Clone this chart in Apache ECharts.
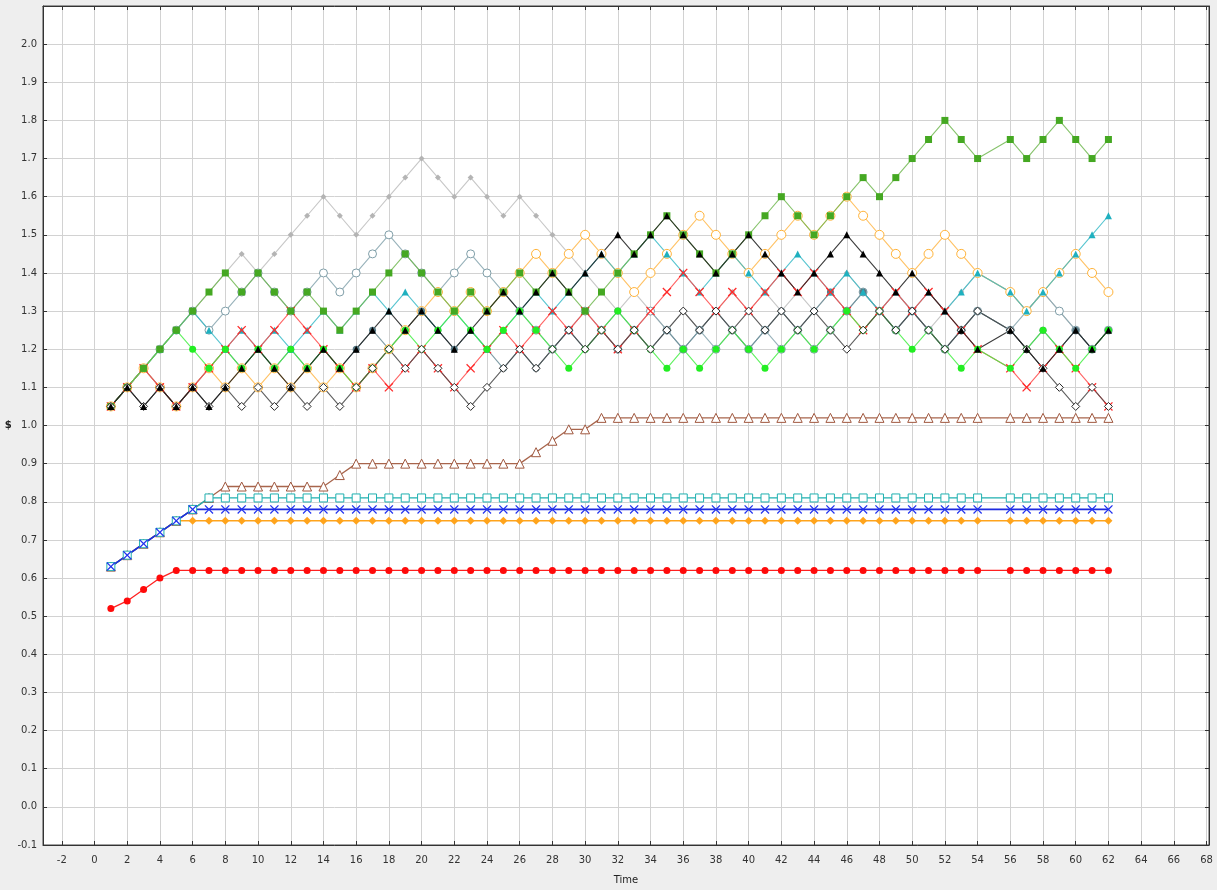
<!DOCTYPE html>
<html><head><meta charset="utf-8">
<script src="https://cdn.jsdelivr.net/npm/echarts@6/dist/echarts.min.js"></script>
<style>html,body{margin:0;padding:0;background:#eeeeee;}#c{width:1217px;height:890px;}</style>
</head><body><div id="c"></div>
<script>
// time points (t = 55 is absent in the source)
const times = [1,2,3,4,5,6,7,8,9,10,11,12,13,14,15,16,17,18,19,20,21,22,23,24,25,26,27,28,29,30,
  31,32,33,34,35,36,37,38,39,40,41,42,43,44,45,46,47,48,49,50,51,52,53,54,56,57,58,59,60,61,62];
const xTickValues = [-2,0,2,4,6,8,10,12,14,16,18,20,22,24,26,28,30,32,34,36,38,40,42,44,46,48,50,52,54,56,58,60,62,64,66,68];

// random-walk series
const greenSquares = [1.05,1.10,1.15,1.20,1.25,1.30,1.35,1.40,1.35,1.40,
 1.35,1.30,1.35,1.30,1.25,1.30,1.35,1.40,1.45,1.40,
 1.35,1.30,1.35,1.30,1.35,1.40,1.35,1.40,1.35,1.30,
 1.35,1.40,1.45,1.50,1.55,1.50,1.45,1.40,1.45,1.50,
 1.55,1.60,1.55,1.50,1.55,1.60,1.65,1.60,1.65,1.70,
 1.75,1.80,1.75,1.70,1.75,1.70,1.75,1.80,1.75,1.70,1.75];
const lightGrey = [1.05,1.10,1.15,1.20,1.25,1.30,1.35,1.40,1.45,1.40,
 1.45,1.50,1.55,1.60,1.55,1.50,1.55,1.60,1.65,1.70,
 1.65,1.60,1.65,1.60,1.55,1.60,1.55,1.50,1.45,1.40,
 1.35,1.30,1.35,1.30,1.25,1.30,1.25,1.30,1.35,1.30,
 1.35,1.30,1.35,1.30,1.35,1.40,1.35,1.30,1.35,1.30,
 1.25,1.30,1.35,1.40,1.35,1.30,1.35,1.30,1.25,1.20,1.25];
const greyBlueCircles = [1.05,1.10,1.15,1.20,1.25,1.30,1.25,1.30,1.35,1.40,
 1.35,1.30,1.35,1.40,1.35,1.40,1.45,1.50,1.45,1.40,
 1.35,1.40,1.45,1.40,1.35,1.30,1.25,1.20,1.25,1.30,
 1.25,1.20,1.25,1.30,1.25,1.20,1.25,1.20,1.25,1.20,
 1.25,1.20,1.25,1.20,1.25,1.30,1.35,1.30,1.25,1.30,
 1.25,1.20,1.25,1.30,1.25,1.30,1.35,1.30,1.25,1.20,1.25];
const orangeCircles = [1.05,1.10,1.15,1.10,1.05,1.10,1.15,1.10,1.15,1.10,
 1.15,1.10,1.15,1.10,1.15,1.10,1.15,1.20,1.25,1.30,
 1.35,1.30,1.35,1.30,1.35,1.40,1.45,1.40,1.45,1.50,
 1.45,1.40,1.35,1.40,1.45,1.50,1.55,1.50,1.45,1.40,
 1.45,1.50,1.55,1.50,1.55,1.60,1.55,1.50,1.45,1.40,
 1.45,1.50,1.45,1.40,1.35,1.30,1.35,1.40,1.45,1.40,1.35];
const blackTriangles = [1.05,1.10,1.05,1.10,1.05,1.10,1.05,1.10,1.15,1.20,
 1.15,1.10,1.15,1.20,1.15,1.20,1.25,1.30,1.25,1.30,
 1.25,1.20,1.25,1.30,1.35,1.30,1.35,1.40,1.35,1.40,
 1.45,1.50,1.45,1.50,1.55,1.50,1.45,1.40,1.45,1.50,
 1.45,1.40,1.35,1.40,1.45,1.50,1.45,1.40,1.35,1.40,
 1.35,1.30,1.25,1.20,1.25,1.20,1.15,1.20,1.25,1.20,1.25];
const cyanTriangles = [1.05,1.10,1.15,1.20,1.25,1.30,1.25,1.20,1.25,1.20,
 1.25,1.20,1.25,1.30,1.25,1.30,1.35,1.30,1.35,1.30,
 1.25,1.30,1.25,1.20,1.25,1.30,1.35,1.30,1.35,1.40,
 1.45,1.40,1.45,1.50,1.45,1.40,1.35,1.40,1.45,1.40,
 1.35,1.40,1.45,1.40,1.35,1.40,1.35,1.30,1.35,1.30,
 1.35,1.30,1.35,1.40,1.35,1.30,1.35,1.40,1.45,1.50,1.55];
const redCrosses = [1.05,1.10,1.15,1.10,1.05,1.10,1.15,1.20,1.25,1.20,
 1.25,1.30,1.25,1.20,1.15,1.10,1.15,1.10,1.15,1.20,
 1.15,1.10,1.15,1.20,1.25,1.20,1.25,1.30,1.25,1.30,
 1.25,1.20,1.25,1.30,1.35,1.40,1.35,1.30,1.35,1.30,
 1.35,1.40,1.35,1.40,1.35,1.30,1.25,1.30,1.35,1.30,
 1.35,1.30,1.25,1.20,1.15,1.10,1.15,1.20,1.15,1.10,1.05];
const brightGreenDots = [1.05,1.10,1.15,1.20,1.25,1.20,1.15,1.20,1.15,1.20,
 1.15,1.20,1.15,1.20,1.15,1.10,1.15,1.20,1.25,1.20,
 1.25,1.30,1.25,1.20,1.25,1.30,1.25,1.20,1.15,1.20,
 1.25,1.30,1.25,1.20,1.15,1.20,1.15,1.20,1.25,1.20,
 1.15,1.20,1.25,1.20,1.25,1.30,1.25,1.30,1.25,1.20,
 1.25,1.20,1.15,1.20,1.15,1.20,1.25,1.20,1.15,1.20,1.25];
const blackDiamonds = [1.05,1.10,1.05,1.10,1.05,1.10,1.05,1.10,1.05,1.10,
 1.05,1.10,1.05,1.10,1.05,1.10,1.15,1.20,1.15,1.20,
 1.15,1.10,1.05,1.10,1.15,1.20,1.15,1.20,1.25,1.20,
 1.25,1.20,1.25,1.20,1.25,1.30,1.25,1.30,1.25,1.30,
 1.25,1.30,1.25,1.30,1.25,1.20,1.25,1.30,1.25,1.30,
 1.25,1.20,1.25,1.30,1.25,1.20,1.15,1.10,1.05,1.10,1.05];
const slateDots = [1.05,1.10,1.15,1.10,1.05,1.10,1.15,1.20,1.15,1.20,
 1.15,1.20,1.15,1.20,1.15,1.20,1.25,1.20,1.25,1.30,
 1.25,1.20,1.25,1.20,1.15,1.20,1.15,1.20,1.25,1.20,
 1.25,1.30,1.25,1.20,1.25,1.20,1.25,1.30,1.25,1.20,
 1.25,1.30,1.25,1.30,1.35,1.30,1.35,1.30,1.25,1.30,
 1.25,1.20,1.25,1.30,1.25,1.20,1.25,1.20,1.25,1.20,1.25];

// lower series
const brownTriangles = [0.63,0.66,0.69,0.72,0.75,0.78,0.81,0.84,0.84,0.84,
 0.84,0.84,0.84,0.84,0.87,0.90,0.90,0.90,0.90,0.90,
 0.90,0.90,0.90,0.90,0.90,0.90,0.93,0.96,0.99,0.99,
 1.02,1.02,1.02,1.02,1.02,1.02,1.02,1.02,1.02,1.02,
 1.02,1.02,1.02,1.02,1.02,1.02,1.02,1.02,1.02,1.02,
 1.02,1.02,1.02,1.02,1.02,1.02,1.02,1.02,1.02,1.02,1.02];
const cyanSquares = [0.63,0.66,0.69,0.72,0.75,0.78,0.81,0.81,0.81,0.81,
 0.81,0.81,0.81,0.81,0.81,0.81,0.81,0.81,0.81,0.81,
 0.81,0.81,0.81,0.81,0.81,0.81,0.81,0.81,0.81,0.81,
 0.81,0.81,0.81,0.81,0.81,0.81,0.81,0.81,0.81,0.81,
 0.81,0.81,0.81,0.81,0.81,0.81,0.81,0.81,0.81,0.81,
 0.81,0.81,0.81,0.81,0.81,0.81,0.81,0.81,0.81,0.81,0.81];
const blueCrosses = [0.63,0.66,0.69,0.72,0.75,0.78,0.78,0.78,0.78,0.78,
 0.78,0.78,0.78,0.78,0.78,0.78,0.78,0.78,0.78,0.78,
 0.78,0.78,0.78,0.78,0.78,0.78,0.78,0.78,0.78,0.78,
 0.78,0.78,0.78,0.78,0.78,0.78,0.78,0.78,0.78,0.78,
 0.78,0.78,0.78,0.78,0.78,0.78,0.78,0.78,0.78,0.78,
 0.78,0.78,0.78,0.78,0.78,0.78,0.78,0.78,0.78,0.78,0.78];
const orangeDiamonds = [0.63,0.66,0.69,0.72,0.75,0.75,0.75,0.75,0.75,0.75,
 0.75,0.75,0.75,0.75,0.75,0.75,0.75,0.75,0.75,0.75,
 0.75,0.75,0.75,0.75,0.75,0.75,0.75,0.75,0.75,0.75,
 0.75,0.75,0.75,0.75,0.75,0.75,0.75,0.75,0.75,0.75,
 0.75,0.75,0.75,0.75,0.75,0.75,0.75,0.75,0.75,0.75,
 0.75,0.75,0.75,0.75,0.75,0.75,0.75,0.75,0.75,0.75,0.75];
const redDots = [0.52,0.54,0.57,0.60,0.62,0.62,0.62,0.62,0.62,0.62,
 0.62,0.62,0.62,0.62,0.62,0.62,0.62,0.62,0.62,0.62,
 0.62,0.62,0.62,0.62,0.62,0.62,0.62,0.62,0.62,0.62,
 0.62,0.62,0.62,0.62,0.62,0.62,0.62,0.62,0.62,0.62,
 0.62,0.62,0.62,0.62,0.62,0.62,0.62,0.62,0.62,0.62,
 0.62,0.62,0.62,0.62,0.62,0.62,0.62,0.62,0.62,0.62,0.62];

const X_PATH = 'path://M0,1L1,0L5,4L9,0L10,1L6,5L10,9L9,10L5,6L1,10L0,9L4,5Z';

function mk(name, vals, o) {
  return {
    name: name, type: 'line', xAxisIndex: 0, yAxisIndex: 0,
    data: times.map((t, i) => [t, vals[i]]),
    symbol: o.symbol, symbolSize: o.size, showAllSymbol: true,
    lineStyle: { color: o.line || o.color, width: o.lw || 1.1, opacity: o.lo || 0.85 },
    itemStyle: { color: o.fill || o.color, borderColor: o.color, borderWidth: o.bw || 0 },
    emphasis: { disabled: true }, animation: false, z: 2
  };
}

const series = [
  mk('lightGrey', lightGrey, {symbol: 'diamond', size: 6, color: '#b4b4b4', line: '#bdbdbd'}),
  mk('greyBlue', greyBlueCircles, {symbol: 'circle', size: 8, color: '#7f9ea8', fill: '#ffffff', bw: 1, line: '#86a4ae'}),
  mk('orange', orangeCircles, {symbol: 'circle', size: 9, color: '#ffb338', fill: '#ffffff', bw: 1, line: '#ffb74a'}),
  mk('slate', slateDots, {symbol: 'circle', size: 7, color: '#587a86', line: '#6a8c96'}),
  mk('cyan', cyanTriangles, {symbol: 'triangle', size: 7, color: '#1fb0bf', line: '#3bbbc8'}),
  mk('red', redCrosses, {symbol: X_PATH, size: 9, color: '#ff2a2a', line: '#ff4a4a'}),
  mk('brightGreen', brightGreenDots, {symbol: 'circle', size: 7, color: '#22ee22', line: '#44ee44'}),
  mk('green', greenSquares, {symbol: 'rect', size: 7, color: '#45a822', line: '#72b852'}),
  mk('blackDiamond', blackDiamonds, {symbol: 'diamond', size: 8, color: '#2a2a2a', fill: '#ffffff', bw: 1, line: '#444444'}),
  mk('blackTriangle', blackTriangles, {symbol: 'triangle', size: 7, color: '#000000', line: '#1a1a1a'}),
  mk('brown', brownTriangles, {symbol: 'triangle', size: 9, color: '#a0583f', fill: '#ffffff', bw: 1, line: '#a8654c', lw: 1.3, lo: 1}),
  mk('orangeDiamond', orangeDiamonds, {symbol: 'diamond', size: 8, color: '#ffa41c', line: '#ffa41c', lw: 1.5, lo: 1}),
  mk('cyanSquare', cyanSquares, {symbol: 'rect', size: 8, color: '#1fb0b0', fill: '#ffffff', bw: 1, line: '#1fb0b0', lw: 1.3, lo: 1}),
  mk('blueCross', blueCrosses, {symbol: X_PATH, size: 9, color: '#2233ee', line: '#1e2be0', lw: 1.6, lo: 1}),
  mk('redDot', redDots, {symbol: 'circle', size: 7, color: '#ff0a0a', line: '#ff2020', lw: 1.3, lo: 1})
];

const font = 'DejaVu Sans, sans-serif';
const chart = echarts.init(document.getElementById('c'), null, {renderer: 'canvas'});
chart.setOption({
  backgroundColor: '#eeeeee',
  animation: false,
  grid: {left: 43, right: 8, top: 6, bottom: 45, show: true, backgroundColor: '#ffffff', borderColor: '#444', borderWidth: 1},
  xAxis: [
    {type: 'value', min: -3.15, max: 68.15, position: 'bottom',
     name: 'Time', nameLocation: 'middle', nameGap: 30,
     nameTextStyle: {fontSize: 10, color: '#222', fontFamily: font},
     axisLine: {show: true, onZero: false, lineStyle: {color: '#333', width: 1}},
     axisTick: {show: true, inside: true, length: 4, customValues: xTickValues, lineStyle: {color: '#333'}},
     axisLabel: {customValues: xTickValues, fontSize: 10, color: '#333', fontFamily: font, margin: 10, formatter: v => String(v)},
     splitLine: {show: true, lineStyle: {color: '#d2d2d2', width: 1}}},
    {type: 'value', min: -3.15, max: 68.15, position: 'top',
     axisLine: {show: true, onZero: false, lineStyle: {color: '#333', width: 1}},
     axisTick: {show: true, inside: true, length: 4, customValues: xTickValues, lineStyle: {color: '#333'}},
     axisLabel: {show: false}, splitLine: {show: false}}
  ],
  yAxis: [
    {type: 'value', min: -0.1, max: 2.1, interval: 0.1, position: 'left',
     name: '$', nameLocation: 'middle', nameGap: 31, nameRotate: 0,
     nameTextStyle: {fontSize: 10, color: '#222', fontFamily: font, fontWeight: 'bold'},
     axisLine: {show: true, onZero: false, lineStyle: {color: '#333', width: 1}},
     axisTick: {show: true, inside: true, length: 4, lineStyle: {color: '#333'}},
     axisLabel: {fontSize: 10, color: '#333', fontFamily: font, margin: 6, showMaxLabel: false,
       formatter: v => (Math.abs(v) < 1e-9 ? 0 : v).toFixed(1)},
     splitLine: {show: true, lineStyle: {color: '#d2d2d2', width: 1}}},
    {type: 'value', min: -0.1, max: 2.1, interval: 0.1, position: 'right',
     axisLine: {show: true, onZero: false, lineStyle: {color: '#333', width: 1}},
     axisTick: {show: true, inside: true, length: 4, lineStyle: {color: '#333'}},
     axisLabel: {show: false}, splitLine: {show: false}}
  ],
  series: series
});
</script></body></html>
